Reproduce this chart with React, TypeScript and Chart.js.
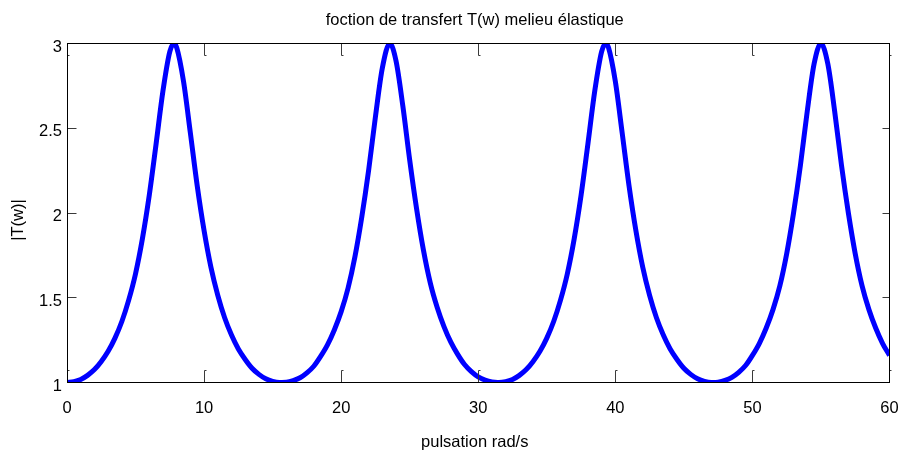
import { useEffect, useRef } from "react";
import { Chart, registerables } from "chart.js";

Chart.register(...registerables);

const TITLE = "foction de transfert T(w) melieu élastique";
const X_LABEL = "pulsation rad/s";
const Y_LABEL = "|T(w)|";
const X_TICKS = [0, 10, 20, 30, 40, 50, 60];
const Y_TICKS = [1, 1.5, 2, 2.5, 3];

const pulsation = [
  0, 0.5, 1, 1.5, 2, 2.5, 3, 3.5, 4, 4.5, 5, 5.5, 6, 6.5, 7, 7.5, 7.8, 8, 8.5, 9, 9.5, 10,
  10.5, 11, 11.5, 12, 12.5, 13, 13.5, 14, 14.5, 15, 15.5, 15.68, 16, 16.5, 17, 17.5, 18, 18.5,
  19, 19.5, 20, 20.5, 21, 21.5, 22, 22.5, 23, 23.55, 24, 24.5, 25, 25.5, 26, 26.5, 27, 27.5,
  28, 28.5, 29, 29.5, 30, 30.5, 31, 31.42, 31.5, 32, 32.5, 33, 33.5, 34, 34.5, 35, 35.5, 36,
  36.5, 37, 37.5, 38, 38.5, 39, 39.3, 39.5, 40, 40.5, 41, 41.5, 42, 42.5, 43, 43.5, 44, 44.5,
  45, 45.5, 46, 46.5, 47, 47.15, 47.5, 48, 48.5, 49, 49.5, 50, 50.5, 51, 51.5, 52, 52.5, 53,
  53.5, 54, 54.5, 55, 55.5, 56, 56.5, 57, 57.5, 58, 58.5, 59, 59.5, 60,
];

const moduleT = [
  1.0, 1.005, 1.018, 1.042, 1.076, 1.124, 1.184, 1.262, 1.36, 1.486, 1.642, 1.848, 2.104, 2.408,
  2.72, 2.952, 3.0, 2.976, 2.776, 2.472, 2.16, 1.896, 1.68, 1.514, 1.382, 1.28, 1.198, 1.136,
  1.084, 1.048, 1.022, 1.007, 1.0, 1.0, 1.001, 1.011, 1.028, 1.057, 1.096, 1.154, 1.222, 1.31,
  1.418, 1.556, 1.74, 1.974, 2.25, 2.568, 2.854, 3.0, 2.898, 2.63, 2.312, 2.026, 1.782, 1.588,
  1.444, 1.33, 1.238, 1.166, 1.106, 1.064, 1.033, 1.014, 1.003, 1.0, 1.0, 1.005, 1.018, 1.042,
  1.076, 1.124, 1.184, 1.262, 1.36, 1.486, 1.642, 1.848, 2.104, 2.408, 2.72, 2.952, 3.0, 2.976,
  2.776, 2.472, 2.16, 1.896, 1.68, 1.514, 1.382, 1.28, 1.198, 1.136, 1.084, 1.048, 1.022, 1.007,
  1.0, 1.0, 1.002, 1.012, 1.03, 1.06, 1.1, 1.16, 1.23, 1.32, 1.43, 1.57, 1.76, 2.0, 2.28, 2.6,
  2.88, 3.0, 2.88, 2.6, 2.28, 2.0, 1.76, 1.57, 1.43, 1.32, 1.23, 1.16,
];

const FONT_FAMILY = "'Liberation Sans', Arial, sans-serif";
const FONT_SIZE = 16.5;

const matlabFrame = {
  id: "matlabFrame",
  afterDraw(chart: any) {
    const { ctx, chartArea: a, scales } = chart;
    const xs = scales.x;
    const ys = scales.y;
    const snap = (v: number) => Math.floor(v) + 0.5;
    const L = snap(a.left);
    const R = snap(a.right);
    const T = snap(a.top);
    const B = snap(a.bottom);
    ctx.save();
    ctx.strokeStyle = "#3a3a3a";
    ctx.lineWidth = 1;
    ctx.beginPath();
    for (const v of X_TICKS) {
      const X = snap(xs.getPixelForValue(v));
      ctx.moveTo(X, B);
      ctx.lineTo(X, B - 12);
      ctx.lineTo(X + 2, B - 12);
      ctx.moveTo(X, T);
      ctx.lineTo(X, T + 12);
      ctx.lineTo(X + 2, T + 12);
    }
    for (const v of Y_TICKS) {
      const Y = snap(ys.getPixelForValue(v));
      ctx.moveTo(L, Y);
      ctx.lineTo(L + 9, Y);
      ctx.moveTo(R, Y);
      ctx.lineTo(R - 7, Y);
    }
    ctx.stroke();
    ctx.strokeStyle = "#000";
    ctx.lineWidth = 1;
    ctx.strokeRect(L, T, R - L, B - T);
    ctx.fillStyle = "#000";
    ctx.font = `${FONT_SIZE}px ${FONT_FAMILY}`;
    ctx.textAlign = "center";
    ctx.textBaseline = "alphabetic";
    const cx = (a.left + a.right) / 2 - 3.5;
    ctx.fillText(TITLE, cx, 25);
    ctx.fillText(X_LABEL, cx, 447);
    ctx.translate(18.6, 220);
    ctx.rotate(-Math.PI / 2);
    ctx.textBaseline = "middle";
    ctx.fillText(Y_LABEL, 0, 0);
    ctx.restore();
  },
};

export default function App() {
  const ref = useRef<HTMLCanvasElement | null>(null);

  useEffect(() => {
    if (!ref.current) return;
    const font = { family: FONT_FAMILY, size: FONT_SIZE };
    const chart = new Chart(ref.current, {
      type: "line",
      data: {
        datasets: [
          {
            data: pulsation.map((x, i) => ({ x, y: moduleT[i] })),
            borderColor: "#0000ff",
            borderWidth: 5,
            pointRadius: 0,
            cubicInterpolationMode: "monotone",
            fill: false,
            clip: 0,
          } as any,
        ],
      },
      options: {
        animation: false,
        responsive: true,
        maintainAspectRatio: false,
        layout: { padding: { top: 43.5, right: 8.5, left: 0, bottom: 0 } },
        plugins: {
          legend: { display: false },
          title: { display: false },
          tooltip: { enabled: false },
        },
        scales: {
          x: {
            type: "linear",
            min: 0,
            max: 60,
            afterBuildTicks: (s: any) => {
              s.ticks = X_TICKS.map((v) => ({ value: v }));
            },
            afterFit: (s: any) => {
              s.height = 67.5;
              s.paddingLeft = 0;
              s.paddingRight = 0;
            },
            ticks: {
              font,
              color: "#000",
              padding: 16.2,
              maxRotation: 0,
              autoSkip: false,
              callback: (v: any) => String(v),
            },
            grid: { display: false, drawTicks: false },
            border: { display: false },
          },
          y: {
            type: "linear",
            min: 1,
            max: 3,
            afterBuildTicks: (s: any) => {
              s.ticks = Y_TICKS.map((v) => ({ value: v }));
            },
            afterFit: (s: any) => {
              s.width = 67;
              s.paddingTop = 0;
              s.paddingBottom = 0;
            },
            ticks: {
              font,
              color: "#000",
              padding: 5,
              labelOffset: 3.5,
              autoSkip: false,
              callback: (v: any) => String(v),
            },
            grid: { display: false, drawTicks: false },
            border: { display: false },
          },
        },
      },
      plugins: [matlabFrame],
    });
    return () => chart.destroy();
  }, []);

  return (
    <div style={{ position: "fixed", left: 0, top: 0, width: 898, height: 450, background: "#fff" }}>
      <canvas ref={ref} />
    </div>
  );
}
